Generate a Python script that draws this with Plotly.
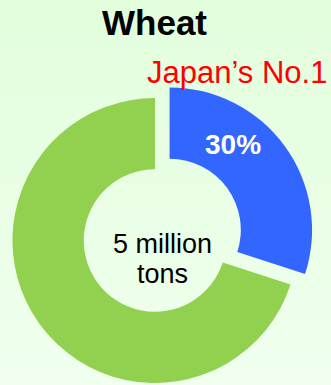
import math
import plotly.graph_objects as go

# Wheat self-sufficiency breakdown
labels = ["Japan's No.1", "Other"]
values = [30, 70]
slice_colors = ["#3366FF", "#92D050"]
title_text = "Wheat"
callout_text = "Japan\u2019s No.1"
center_lines = ["5 million", "tons"]

W, H = 331, 385
cx, cy, R = 155.0, 240.5, 142.5   # pie centre (px from top-left) and outer radius
pull_px = 18.0                     # how far the highlighted slice is pulled out

total = sum(values)
share = values[0] / total
mid_angle = math.radians(360 * share / 2)  # bisector of first slice, clockwise from 12 o'clock
dx, dy = pull_px * math.sin(mid_angle), -pull_px * math.cos(mid_angle)


def domain(px, py):
    return dict(
        x=[(px - R) / W, (px + R) / W],
        y=[(H - py - R) / H, (H - py + R) / H],
    )


fig = go.Figure()
# remaining share, highlighted slice left transparent
fig.add_trace(go.Pie(
    labels=labels, values=values, hole=0.5, sort=False, direction="clockwise",
    marker=dict(colors=["rgba(0,0,0,0)", slice_colors[1]], line=dict(width=0)),
    textinfo="none", hoverinfo="label+percent", showlegend=False,
    domain=domain(cx, cy),
))
# highlighted slice, offset along its bisector
fig.add_trace(go.Pie(
    labels=labels, values=values, hole=0.5, sort=False, direction="clockwise",
    marker=dict(colors=[slice_colors[0], "rgba(0,0,0,0)"], line=dict(width=0)),
    textinfo="none", hoverinfo="label+percent", showlegend=False,
    domain=domain(cx + dx, cy + dy),
))

# soft vertical background gradient
top_c, bot_c = (226, 254, 220), (240, 255, 238)
bands = 40
shapes = []
for i in range(bands):
    t = i / (bands - 1)
    c = tuple(round(a + (b - a) * t) for a, b in zip(top_c, bot_c))
    shapes.append(dict(
        type="rect", xref="paper", yref="paper", layer="below",
        x0=0, x1=1, y0=1 - (i + 1) / bands, y1=1 - i / bands,
        fillcolor=f"rgb{c}", line=dict(width=0),
    ))

font = "Liberation Sans, Arial, sans-serif"
annotations = [
    dict(text=f"<b>{title_text}</b>", x=154 / W, y=1 - 22 / H, xref="paper", yref="paper",
         showarrow=False, font=dict(family=font, size=35, color="#000000"),
         xanchor="center", yanchor="middle"),
    dict(text=callout_text, x=329 / W, y=1 - 72 / H, xref="paper", yref="paper",
         showarrow=False, font=dict(family=font, size=31, color="#FF0000"),
         xanchor="right", yanchor="middle"),
    dict(text=f"<b>{round(share * 100)}%</b>", x=232.5 / W, y=1 - 144 / H, xref="paper", yref="paper",
         showarrow=False, font=dict(family=font, size=28, color="#FFFFFF"),
         xanchor="center", yanchor="middle"),
    dict(text=center_lines[0], x=162 / W, y=1 - 244 / H, xref="paper", yref="paper",
         showarrow=False, font=dict(family=font, size=27, color="#000000"),
         xanchor="center", yanchor="middle"),
    dict(text=center_lines[1], x=162 / W, y=1 - 274 / H, xref="paper", yref="paper",
         showarrow=False, font=dict(family=font, size=27, color="#000000"),
         xanchor="center", yanchor="middle"),
]

fig.update_layout(
    width=W, height=H,
    margin=dict(l=0, r=0, t=0, b=0),
    paper_bgcolor="rgb(233,254,229)",
    plot_bgcolor="rgba(0,0,0,0)",
    shapes=shapes,
    annotations=annotations,
    showlegend=False,
)

fig.write_html("out.html")
